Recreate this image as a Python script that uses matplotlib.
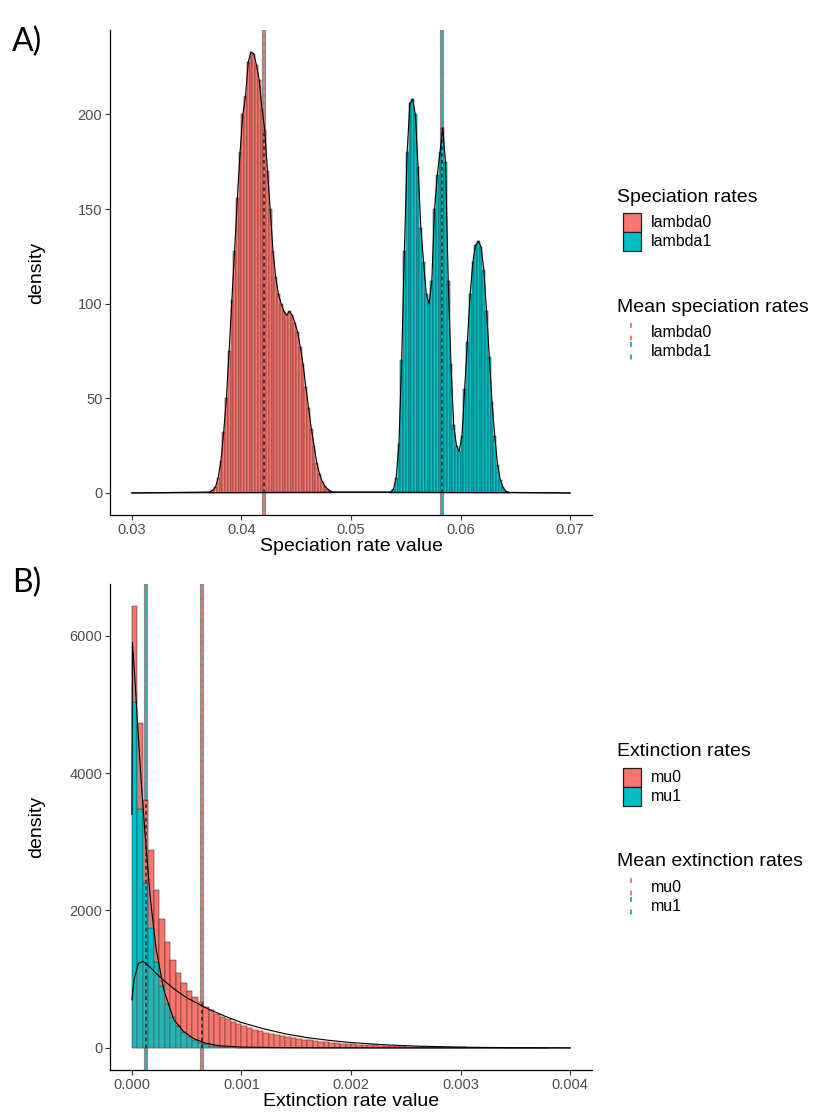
import numpy as np
import matplotlib
matplotlib.use("Agg")
import matplotlib.pyplot as plt
from matplotlib.patches import Rectangle
from matplotlib.lines import Line2D

plt.rcParams["font.family"] = ["Liberation Sans", "DejaVu Sans"]

# ── palette ─────────────────────────────────────────────────────────
RED = "#F8766D"
TEAL = "#00BFC4"
GREY = "#8C8C8C"
TICK_C = "#4D4D4D"
W, H = 817, 1118

# ── data: A) speciation rates (histogram densities per bin) ─────────
lam_bw = 0.00025
lam0_start = 0.0370
lam0_dens = [0.5, 1.5, 3, 8, 17, 32, 50, 75, 102, 128, 156, 180, 200, 210, 228,
             233, 232, 226, 218, 203, 192, 170, 150, 128, 114, 105, 100, 96, 94,
             96, 94, 90, 85, 77, 68, 56, 45, 34, 25, 16, 10, 6, 3.5, 2, 1, 0.5]
lam1_start = 0.0535
lam1_dens = [0.5, 2, 8, 26, 70, 128, 180, 206, 208, 200, 172, 140, 122, 105,
             100, 112, 150, 168, 180, 193, 175, 112, 68, 36, 25, 22, 30, 55, 80,
             105, 122, 131, 133, 130, 118, 96, 72, 48, 30, 15, 7, 3, 1, 0.3]
lam_range = (0.03, 0.07)
lam_means = [0.04208, 0.05835]
lam_labels = ["lambda0", "lambda1"]

# ── data: B) extinction rates ───────────────────────────────────────
mu_bw = 0.00005
mu1_dens = [5030, 3470, 2400, 1750, 1250, 900, 640, 450, 320, 230, 160, 110,
            75, 50, 35, 24, 16, 10, 7, 5, 3, 2, 1, 1]
mu0_dens = [1400, 1260, 1210, 1130, 1050, 975, 900, 830, 770, 715, 665, 625,
            590, 550, 510, 475, 440, 405, 372, 342, 312, 288, 265, 243, 223,
            205, 188, 172, 158, 145, 133, 122, 111, 101, 92, 84, 77, 70, 64,
            58, 53, 48, 44, 40, 36, 33, 30, 27, 24, 22, 20, 18, 16, 14, 13, 11,
            10, 9, 8, 7, 6, 5, 5, 4, 4, 3, 3, 3, 2, 2, 2, 2, 1, 1, 1, 1]
mu0_kde_x = [0.0, 0.00002, 0.00006, 0.0001, 0.00015, 0.0002, 0.00025, 0.0003,
             0.0004, 0.0005, 0.0006, 0.0007, 0.0008, 0.0009, 0.001, 0.0012,
             0.0014, 0.0016, 0.0018, 0.002, 0.0023, 0.0026, 0.003, 0.0035, 0.004]
mu0_kde_y = [700, 1000, 1230, 1260, 1200, 1120, 1040, 970, 840, 730, 645, 565,
             495, 430, 370, 280, 205, 150, 110, 78, 46, 26, 11, 3, 0]
mu1_kde_x = [0.0, 0.000005, 0.00003, 0.00006, 0.00009, 0.00013, 0.00017,
             0.00022, 0.00029, 0.00038, 0.00047, 0.00056, 0.00066, 0.0008,
             0.001, 0.0013, 0.0017, 0.0022, 0.003, 0.004]
mu1_kde_y = [3400, 5900, 5300, 4500, 3750, 2900, 2150, 1450, 850, 420, 240,
             140, 73, 30, 12, 5, 2, 1, 0, 0]
mu_means = [0.000644, 0.000125]
mu_labels = ["mu0", "mu1"]

fig = plt.figure(figsize=(W / 100, H / 100), dpi=100)


def add_ax(l, t, r, b):
    return fig.add_axes([l / W, 1 - b / H, (r - l) / W, (b - t) / H])


def style(ax):
    for s in ("top", "right"):
        ax.spines[s].set_visible(False)
    for s in ("left", "bottom"):
        ax.spines[s].set_linewidth(0.9)
    ax.tick_params(length=3.5, width=0.8, color="#333333", labelcolor=TICK_C,
                   labelsize=10.5, pad=2)


def mean_line(ax, x, h, color):
    ax.axvline(x, color=GREY, lw=3.0, zorder=1)
    ax.axvline(x, color=color, lw=1.4, ls=(0, (2, 1.8)), zorder=1.5)
    ax.plot([x, x], [0, h], color="#1a1a1a", lw=1.3, ls=(0, (2, 1.8)),
            alpha=0.8, zorder=5)


def kde(ax, xs, ys, color):
    ax.fill_between(xs, 0, ys, color=color, alpha=0.2, lw=0, zorder=3)
    ax.plot(xs, ys, color="black", lw=0.8, zorder=4)


# ====================================================================
#  A) speciation
# ====================================================================
axA = add_ax(110, 30, 592, 515)
style(axA)
groups = [(lam0_start, np.array(lam0_dens), RED),
          (lam1_start, np.array(lam1_dens), TEAL)]
ymaxA = max(max(lam0_dens), max(lam1_dens))
for (start, dens, col), m in zip(groups, lam_means):
    edges = start + lam_bw * np.arange(len(dens))
    axA.bar(edges, dens, width=lam_bw, align="edge", color=col,
            edgecolor="#222222", linewidth=0.35, zorder=2)
    centers = edges + lam_bw / 2
    xs = np.concatenate([[lam_range[0]], centers, [lam_range[1]]])
    ys = np.concatenate([[0], dens, [0]])
    kde(axA, xs, ys, col)
    h = dens[int((m - start) // lam_bw)]
    mean_line(axA, m, h, col)
axA.set_xlim(0.028, 0.072)
axA.set_ylim(-0.05 * ymaxA, 1.05 * ymaxA)
axA.set_xticks([0.03, 0.04, 0.05, 0.06, 0.07])
axA.set_xticklabels(["0.03", "0.04", "0.05", "0.06", "0.07"])
axA.set_yticks([0, 50, 100, 150, 200])
axA.set_xlabel("Speciation rate value", fontsize=14, labelpad=1)
axA.set_ylabel("density", fontsize=14)

# ====================================================================
#  B) extinction
# ====================================================================
axB = add_ax(110, 584, 592, 1070)
style(axB)
mu0 = np.array(mu0_dens, dtype=float)
mu1 = np.zeros(len(mu0))
mu1[:len(mu1_dens)] = mu1_dens
edgesB = mu_bw * np.arange(len(mu0))
axB.bar(edgesB, mu1, width=mu_bw, align="edge", color=TEAL,
        edgecolor="#222222", linewidth=0.35, zorder=2)
axB.bar(edgesB, mu0, width=mu_bw, bottom=mu1, align="edge", color=RED,
        edgecolor="#222222", linewidth=0.35, zorder=2)
kde(axB, mu0_kde_x, mu0_kde_y, RED)
kde(axB, mu1_kde_x, mu1_kde_y, TEAL)
total = mu0 + mu1
for m, col in zip(mu_means, [RED, TEAL]):
    mean_line(axB, m, total[int(m // mu_bw)], col)
ymaxB = total.max()
axB.set_xlim(-0.0002, 0.0042)
axB.set_ylim(-0.05 * ymaxB, 1.05 * ymaxB)
axB.set_xticks([0, 0.001, 0.002, 0.003, 0.004])
axB.set_xticklabels(["0.000", "0.001", "0.002", "0.003", "0.004"])
axB.set_yticks([0, 2000, 4000, 6000])
axB.set_xlabel("Extinction rate value", fontsize=14, labelpad=1)
axB.set_ylabel("density", fontsize=14)

# aligned y titles, as in the combined figure
for ax in (axA, axB):
    ax.yaxis.set_label_coords(-0.135, 0.5)

# ====================================================================
#  panel letters + legends
# ====================================================================
def ftext(x, y, s, **kw):
    fig.text(x / W, 1 - y / H, s, va="center", ha="left", **kw)


ftext(12, 42, "A)", fontsize=23, family=["Lato", "DejaVu Sans"])
ftext(12, 583, "B)", fontsize=23, family=["Lato", "DejaVu Sans"])


def legend(y0, title1, title2, labels):
    ftext(617, y0, title1, fontsize=14)
    for i, (lab, col) in enumerate(zip(labels, [RED, TEAL])):
        top = y0 + 16 + 19 * i
        fig.add_artist(Rectangle((623 / W, 1 - (top + 19) / H), 18 / W, 19 / H,
                                 transform=fig.transFigure, fc=col,
                                 ec="#222222", lw=0.9))
        ftext(651, top + 9.5, lab, fontsize=11.5)
    y1 = y0 + 110
    ftext(617, y1, title2, fontsize=14)
    for i, (lab, col) in enumerate(zip(labels, [RED, TEAL])):
        top = y1 + 16 + 19 * i
        fig.add_artist(Line2D([631 / W, 631 / W], [1 - top / H, 1 - (top + 19) / H],
                              transform=fig.transFigure, color=col, lw=1.4,
                              ls=(0, (2.5, 4))))
        ftext(651, top + 9.5, lab, fontsize=11.5)


legend(197, "Speciation rates", "Mean speciation rates", lam_labels)
legend(752, "Extinction rates", "Mean extinction rates", mu_labels)

fig.savefig("out.png", dpi=100, facecolor="white")
